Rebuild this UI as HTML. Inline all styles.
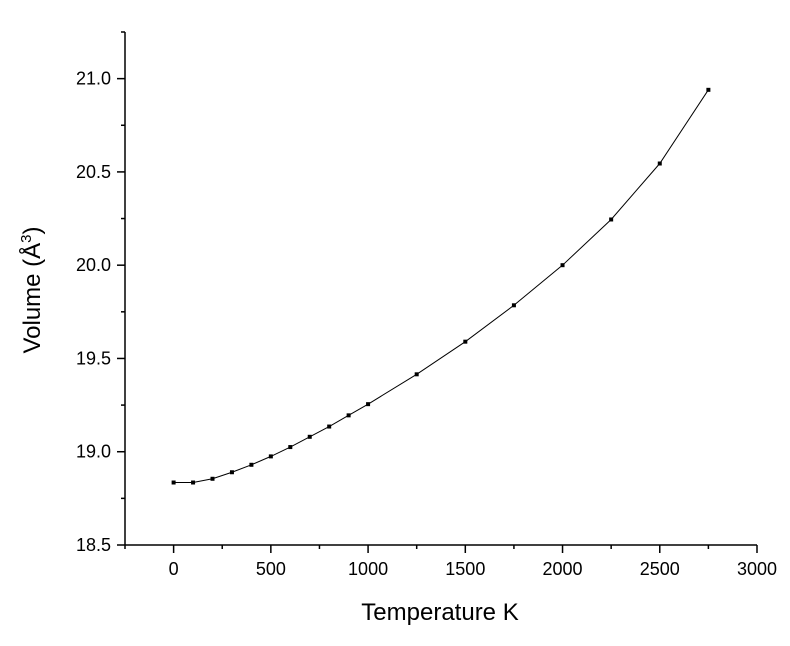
<!DOCTYPE html>
<html><head><meta charset="utf-8"><style>
body{margin:0;background:#fff;}
svg{display:block;font-family:"Liberation Sans",Arial,sans-serif;}
</style></head><body>
<svg id="chart" width="790" height="646">
<g id="axes"></g>
<g id="marks"></g>
<text x="440" y="620" font-size="24" text-anchor="middle">Temperature K</text>
<text transform="translate(40,290) rotate(-90)" font-size="24" text-anchor="middle">Volume (Å<tspan font-size="15" dy="-9">3</tspan><tspan dy="9">)</tspan></text>
</svg>
<script>
const temps=[0,100,200,300,400,500,600,700,800,900,1000,1250,1500,1750,2000,2250,2500,2750];
const volumes=[18.835,18.835,18.855,18.89,18.93,18.975,19.025,19.08,19.135,19.195,19.255,19.415,19.59,19.785,20.0,20.245,20.545,20.94];
const xTicks=[0,500,1000,1500,2000,2500,3000];
const yTicks=[18.5,19.0,19.5,20.0,20.5,21.0];
const xTickLabels=["0","500","1000","1500","2000","2500","3000"];
const yTickLabels=["18.5","19.0","19.5","20.0","20.5","21.0"];
const NS="http://www.w3.org/2000/svg";
const X0=125,X1=757,Y0=545,Y1=32;
const xmin=-250,xmax=3000,ymin=18.5,ymax=21.25;
function sx(v){return X0+(v-xmin)/(xmax-xmin)*(X1-X0);}
function sy(v){return Y0-(v-ymin)/(ymax-ymin)*(Y0-Y1);}
function mk(t,a,p){const e=document.createElementNS(NS,t);for(const k in a)e.setAttribute(k,a[k]);p.appendChild(e);return e;}
const ax=document.getElementById('axes');
let l=mk('line',{x1:X0,y1:Y0,x2:X1,y2:Y0,stroke:'#000','stroke-width':1.5},ax);


l=mk('line',{x1:X0,y1:Y0,x2:X0,y2:Y1,stroke:'#000','stroke-width':1.5},ax);


for(let v=-250;v<=3000;v+=250){const maj=v%500===0;const t=mk('line',{x1:sx(v),y1:Y0,x2:sx(v),y2:Y0+(maj?8:4),stroke:'#000','stroke-width':1.5},ax);

}
for(let v=18.5;v<=21.26;v+=0.25){const maj=Math.abs(v*2-Math.round(v*2))<1e-6;const t=mk('line',{x1:X0,y1:sy(v),x2:X0-(maj?8:4),y2:sy(v),stroke:'#000','stroke-width':1.5},ax);

}
xTicks.forEach((v,i)=>{const t=mk('text',{x:sx(v),y:Y0+30,'font-size':18,'text-anchor':'middle'},ax);t.textContent=xTickLabels[i];

});
yTicks.forEach((v,i)=>{const t=mk('text',{x:X0-14,y:sy(v)+6,'font-size':18,'text-anchor':'end'},ax);t.textContent=yTickLabels[i];

});
const mg=document.getElementById('marks');
const pl=mk('polyline',{points:temps.map((t,i)=>sx(t)+','+sy(volumes[i])).join(' '),fill:'none',stroke:'#000','stroke-width':1},mg);


temps.forEach((t,i)=>{const r=mk('rect',{x:sx(t)-2,y:sy(volumes[i])-2,width:4,height:4,fill:'#000'},mg);

});
</script>
</body></html>
